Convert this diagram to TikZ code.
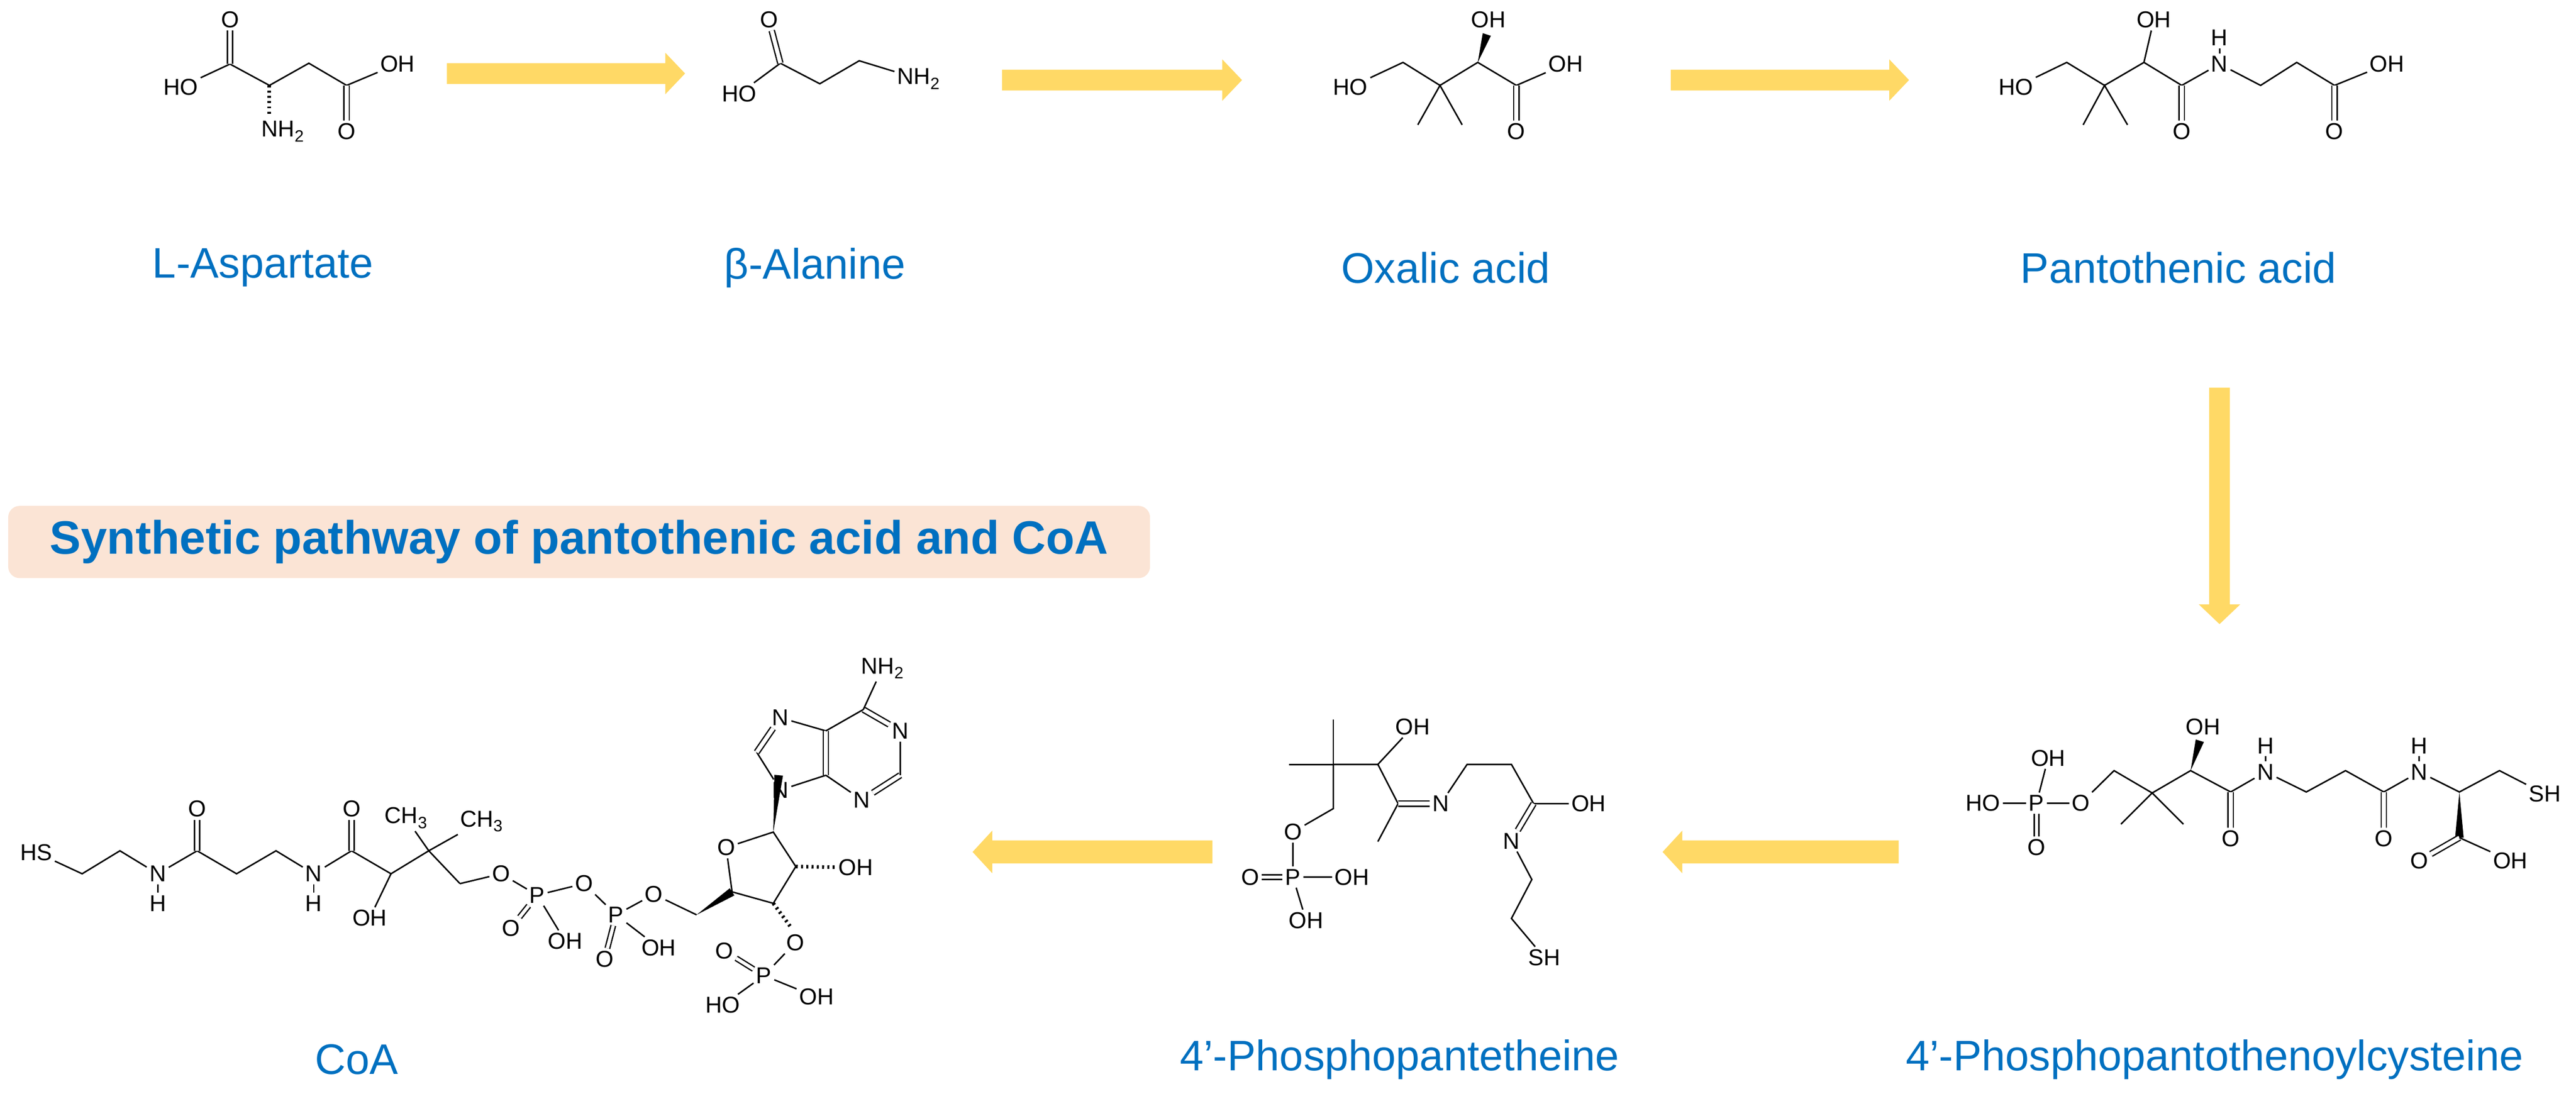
\documentclass[tikz,border=0pt]{standalone}
\usepackage{fontspec}
\setmainfont{Liberation Sans}
\usetikzlibrary{calc}
\definecolor{lblue}{RGB}{0,112,192}
\definecolor{ayel}{RGB}{255,217,102}
\definecolor{peach}{RGB}{251,228,213}
\newcommand\lo[1]{\raisebox{-0.4ex}{\fontsize{10}{10}\selectfont #1}}
\newcommand\wdg[2]{\fill (#1) -- ($(#2)!2.6pt!90:(#1)$) -- ($(#2)!2.6pt!-90:(#1)$) -- cycle;}
\newcommand\rarr[3]{\fill[ayel] (#1,#3-6.3) -- (#2-12,#3-6.3) -- (#2-12,#3-12.6) -- (#2,#3) -- (#2-12,#3+12.6) -- (#2-12,#3+6.3) -- (#1,#3+6.3) -- cycle;}
\newcommand\larr[3]{\fill[ayel] (#1,#3-7) -- (#2+12,#3-7) -- (#2+12,#3-13) -- (#2,#3) -- (#2+12,#3+13) -- (#2+12,#3+7) -- (#1,#3+7) -- cycle;}
\begin{document}
\begin{tikzpicture}[x=1pt,y=-1pt,line width=0.9pt,
  atom/.style={font=\fontsize{14}{14}\selectfont, inner sep=1.2pt},
  cname/.style={font=\fontsize{26}{26}\selectfont, text=lblue},
  dbl/.style={double, double distance=2.4pt, line width=0.8pt},
  hash/.style={line width=2.2pt, dash pattern=on 1.2pt off 2pt}]
\useasboundingbox (0,0) rectangle (1568,666);
% arrows
\rarr{272}{417}{44.75}
\rarr{610}{756}{48.75}
\rarr{1017}{1162}{48.75}
\fill[ayel] (1344.7,236) -- (1344.7,368) -- (1338.4,368) -- (1351,380) -- (1363.6,368) -- (1357.3,368) -- (1357.3,236) -- cycle;
\larr{1155.7}{1012}{518.7}
\larr{738}{592}{518.7}
% title
\node[fill=peach, rounded corners=7pt, minimum width=695pt, minimum height=44pt, font=\fontsize{28.5}{28.5}\selectfont\bfseries, text=lblue] (title) at (352.5,330) {Synthetic pathway of pantothenic acid and CoA};
% names
\node[cname] (n1) at (160,163) {L-Aspartate};
\node[cname] (n2) at (496,163) {β-Alanine};
\node[cname] (n3) at (880,163) {Oxalic acid};
\node[cname] (n4) at (1326,163) {Pantothenic acid};
\node[cname] (n5) at (217,645) {CoA};
\node[cname] (n6) at (852,645) {4’-Phosphopantetheine};
\node[cname] (n7) at (1348,645) {4’-Phosphopantothenoylcysteine};
% ---- L-Aspartate
\coordinate (a1) at (140,39); \coordinate (a2) at (164,52); \coordinate (a3) at (188,38.5); \coordinate (a4) at (211,52);
\coordinate (aNb) at (164,71);
\node[atom] (aO1) at (140,12) {O};
\node[atom] (aHO) at (110,53) {HO};
\node[atom] (aN) at (172,80) {NH\lo2};
\node[atom] (aOH) at (242,39) {OH};
\node[atom] (aO2) at (211,80) {O};
\draw (aHO)--(a1)--(a2)--(a3)--(a4)--(aOH);
\draw[dbl] (a1)--(aO1); \draw[dbl] (a4)--(aO2);
\draw[hash] (a2)--(aNb);
% ---- beta-Alanine
\coordinate (b1) at (475,38.5); \coordinate (b2) at (499,51); \coordinate (b3) at (523,37);
\node[atom] (bO) at (468,12) {O};
\node[atom] (bHO) at (450,57) {HO};
\node[atom] (bN) at (559,48) {NH\lo2};
\draw (bHO)--(b1)--(b2)--(b3)--(bN);
\draw[dbl] (b1)--(bO);
% ---- pantoic acid
\coordinate (p1) at (854,38); \coordinate (pq) at (876.5,52); \coordinate (pm1) at (863,76); \coordinate (pm2) at (890,76);
\coordinate (p2) at (899.5,38); \coordinate (p3) at (923,52); \coordinate (pw) at (905,21);
\node[atom] (pHO) at (822,53) {HO};
\node[atom] (pOHt) at (906,12) {OH};
\node[atom] (pOH) at (953,39) {OH};
\node[atom] (pO) at (923,80) {O};
\draw (pHO)--(p1)--(pq)--(p2)--(p3)--(pOH);
\draw (pm1)--(pq)--(pm2);
\draw[dbl] (p3)--(pO);
\wdg{p2}{pw}
% ---- pantothenic acid
\coordinate (t1) at (1258,38); \coordinate (tq) at (1281,52); \coordinate (tm1) at (1268,76); \coordinate (tm2) at (1295,76);
\coordinate (t2) at (1305,38); \coordinate (t3) at (1328,52); \coordinate (t4) at (1376,52); \coordinate (t5) at (1398,38); \coordinate (t6) at (1421,52);
\node[atom] (tHO) at (1227,53) {HO};
\node[atom] (tOHt) at (1311,12) {OH};
\node[atom] (tO1) at (1328,80) {O};
\node[atom] (tN) at (1351,39) {N};
\node[atom] (tH) at (1351,23) {H};
\node[atom] (tO2) at (1421,80) {O};
\node[atom] (tOH) at (1453,39) {OH};
\draw (tHO)--(t1)--(tq)--(t2)--(t3)--(tN)--(t4)--(t5)--(t6)--(tOH);
\draw (tm1)--(tq)--(tm2); \draw (t2)--(tOHt); \draw (tN)--(tH);
\draw[dbl] (t3)--(tO1); \draw[dbl] (t6)--(tO2);
% ---- CoA
\coordinate (c1) at (50,532); \coordinate (c2) at (73,518); \coordinate (c3) at (120,518); \coordinate (c4) at (144,532);
\coordinate (c5) at (168,518); \coordinate (c6) at (214,518); \coordinate (c7) at (238,532); \coordinate (cq) at (261,518);
\coordinate (c8) at (280,538);
\node[atom] (cHS) at (22,519) {HS};
\node[atom] (cN1) at (96,532) {N}; \node[atom] (cH1) at (96,550) {H};
\node[atom] (cO1) at (120,492.5) {O};
\node[atom] (cN2) at (191,532) {N}; \node[atom] (cH2) at (191,550) {H};
\node[atom] (cO2) at (214,492.5) {O};
\node[atom] (cOH) at (225,559) {OH};
\node[atom] (cMe1) at (247,498) {CH\lo3};
\node[atom] (cMe2) at (293,500) {CH\lo3};
\draw (cHS)--(c1)--(c2)--(cN1)--(c3)--(c4)--(c5)--(cN2)--(c6)--(c7)--(cq)--(c8);
\draw (cN1)--(cH1); \draw (cN2)--(cH2); \draw (c7)--(cOH);
\draw (cq)--(cMe1); \draw (cq)--(cMe2);
\draw[dbl] (c3)--(cO1); \draw[dbl] (c6)--(cO2);
\node[atom] (cOa) at (305,532) {O};
\node[atom] (cP1) at (327,545) {P};
\node[atom] (cP1O) at (311,565) {O};
\node[atom] (cP1OH) at (344,573) {OH};
\node[atom] (cOb) at (355.5,538) {O};
\node[atom] (cP2) at (375,557) {P};
\node[atom] (cP2O) at (368,584) {O};
\node[atom] (cP2OH) at (401,577) {OH};
\node[atom] (cOc) at (398,544.5) {O};
\coordinate (c5p) at (424,557); \coordinate (c4p) at (445.6,543); \coordinate (c1p) at (470.7,506.6);
\coordinate (c2p) at (484.4,527.6); \coordinate (c3p) at (470.7,550);
\node[atom] (cOr) at (442,516) {O};
\node[atom] (cOH2) at (521,528) {OH};
\coordinate (cOH2b) at (509,528);
\node[atom] (cOd) at (484,574) {O};
\coordinate (cOdb) at (481,564);
\node[atom] (cP3) at (465,594) {P};
\node[atom] (cP3O) at (441,579) {O};
\node[atom] (cP3HO) at (440,612) {HO};
\node[atom] (cP3OH) at (497,607) {OH};
\draw (c8)--(cOa)--(cP1)--(cOb)--(cP2)--(cOc)--(c5p);
\draw (cP1)--(cP1OH); \draw (cP2)--(cP2OH);
\draw[dbl,double distance=2pt] (cP1)--(cP1O); \draw[dbl,double distance=2pt] (cP2)--(cP2O);
\wdg{c5p}{c4p}
\draw (c4p)--(cOr)--(c1p)--(c2p)--(c3p)--(c4p);
\draw[hash] (c2p)--(cOH2b);
\draw[hash] (c3p)--(cOdb);
\draw (cOd)--(cP3)--(cP3HO); \draw (cP3)--(cP3OH);
\draw[dbl,double distance=2pt] (cP3)--(cP3O);
% purine
\node[atom] (pN9) at (475,481) {N};
\coordinate (pC8) at (460.6,458);
\node[atom] (pN7) at (475,437) {N};
\coordinate (pC5) at (502.7,445); \coordinate (pC4) at (502.7,472);
\node[atom] (pN3) at (524.6,487) {N};
\coordinate (pC2) at (548,472);
\node[atom] (pN1) at (548,445) {N};
\coordinate (pC6) at (525.5,432);
\node[atom] (pNH) at (537,407) {NH\lo2};
\coordinate (pw9) at (474,472);
\wdg{c1p}{pw9}
\draw (pN9)--(pC8); \draw[dbl] (pC8)--(pN7); \draw (pN7)--(pC5); \draw[dbl] (pC5)--(pC4);
\draw (pC4)--(pN9); \draw (pC4)--(pN3); \draw[dbl] (pN3)--(pC2); \draw (pC2)--(pN1);
\draw[dbl] (pN1)--(pC6); \draw (pC6)--(pC5); \draw (pC6)--(pNH);
% ---- 4'-Phosphopantetheine
\coordinate (eq) at (811.6,465.4); \coordinate (etop) at (811.6,438); \coordinate (eleft) at (784.5,465.4);
\coordinate (ech) at (811.6,492.3); \coordinate (e1) at (838.7,465.4); \coordinate (e2) at (851,489.3);
\coordinate (eme) at (838.7,512.4); \coordinate (e3) at (893,465.4); \coordinate (e4) at (920,465.4);
\coordinate (e5) at (933.5,489.3); \coordinate (e6) at (932.4,535.5); \coordinate (e7) at (920,559.2);
\node[atom] (eOH1) at (860,442.5) {OH};
\node[atom] (eN1) at (877,489.3) {N};
\node[atom] (eOH2) at (967,489.3) {OH};
\node[atom] (eN2) at (920,512) {N};
\node[atom] (eSH) at (940,583) {SH};
\node[atom] (eO) at (787,506.5) {O};
\node[atom] (eP) at (787,534) {P};
\node[atom] (ePO) at (761,534) {O};
\node[atom] (ePOH) at (823,534) {OH};
\node[atom] (ePOH2) at (795,560.4) {OH};
\draw (etop)--(eq)--(eleft); \draw (eq)--(ech)--(eO)--(eP)--(ePOH); \draw (eP)--(ePOH2);
\draw[dbl,double distance=2pt] (eP)--(ePO);
\draw (eq)--(e1)--(eOH1); \draw (e1)--(e2)--(eme);
\draw[dbl] (e2)--(eN1); \draw (eN1)--(e3)--(e4)--(e5)--(eOH2);
\draw[dbl] (e5)--(eN2); \draw (eN2)--(e6)--(e7)--(eSH);
% ---- 4'-Phosphopantothenoylcysteine
\node[atom] (fP) at (1239.6,489) {P};
\node[atom] (fOHt) at (1246.7,461.5) {OH};
\node[atom] (fHO) at (1207,489) {HO};
\node[atom] (fO) at (1266.7,489) {O};
\node[atom] (fPO) at (1239.6,516) {O};
\coordinate (f1) at (1286.8,469.2); \coordinate (fq) at (1310,482.8); \coordinate (fm1) at (1291,501.8); \coordinate (fm2) at (1329,501.8);
\coordinate (f2) at (1333.4,469.2); \coordinate (fw) at (1339,451); \coordinate (f3) at (1357.8,482.2);
\coordinate (f4) at (1403.8,482.2); \coordinate (f5) at (1427.7,469.2); \coordinate (f6) at (1451,482.2);
\coordinate (fa) at (1497,482.2); \coordinate (fch) at (1521.4,469.2); \coordinate (fc) at (1497,510);
\node[atom] (fOH2) at (1341,442.5) {OH};
\node[atom] (fO1) at (1357.8,510.5) {O};
\node[atom] (fN1) at (1379,470) {N}; \node[atom] (fH1) at (1379,454) {H};
\node[atom] (fO2) at (1451,510.5) {O};
\node[atom] (fN2) at (1472.6,470) {N}; \node[atom] (fH2) at (1472.6,454) {H};
\node[atom] (fSH) at (1549,483.4) {SH};
\node[atom] (fO3) at (1472.6,524) {O};
\node[atom] (fOH3) at (1528,524) {OH};
\draw (fHO)--(fP)--(fO)--(f1)--(fq)--(f2)--(f3)--(fN1)--(f4)--(f5)--(f6)--(fN2)--(fa)--(fch)--(fSH);
\draw (fP)--(fOHt); \draw[dbl,double distance=2pt] (fP)--(fPO);
\draw (fm1)--(fq)--(fm2); \draw (fN1)--(fH1); \draw (fN2)--(fH2);
\draw[dbl] (f3)--(fO1); \draw[dbl] (f6)--(fO2);
\wdg{f2}{fw}
\wdg{fa}{fc}
\draw[dbl] (fc)--(fO3); \draw (fc)--(fOH3);
\end{tikzpicture}
\end{document}
